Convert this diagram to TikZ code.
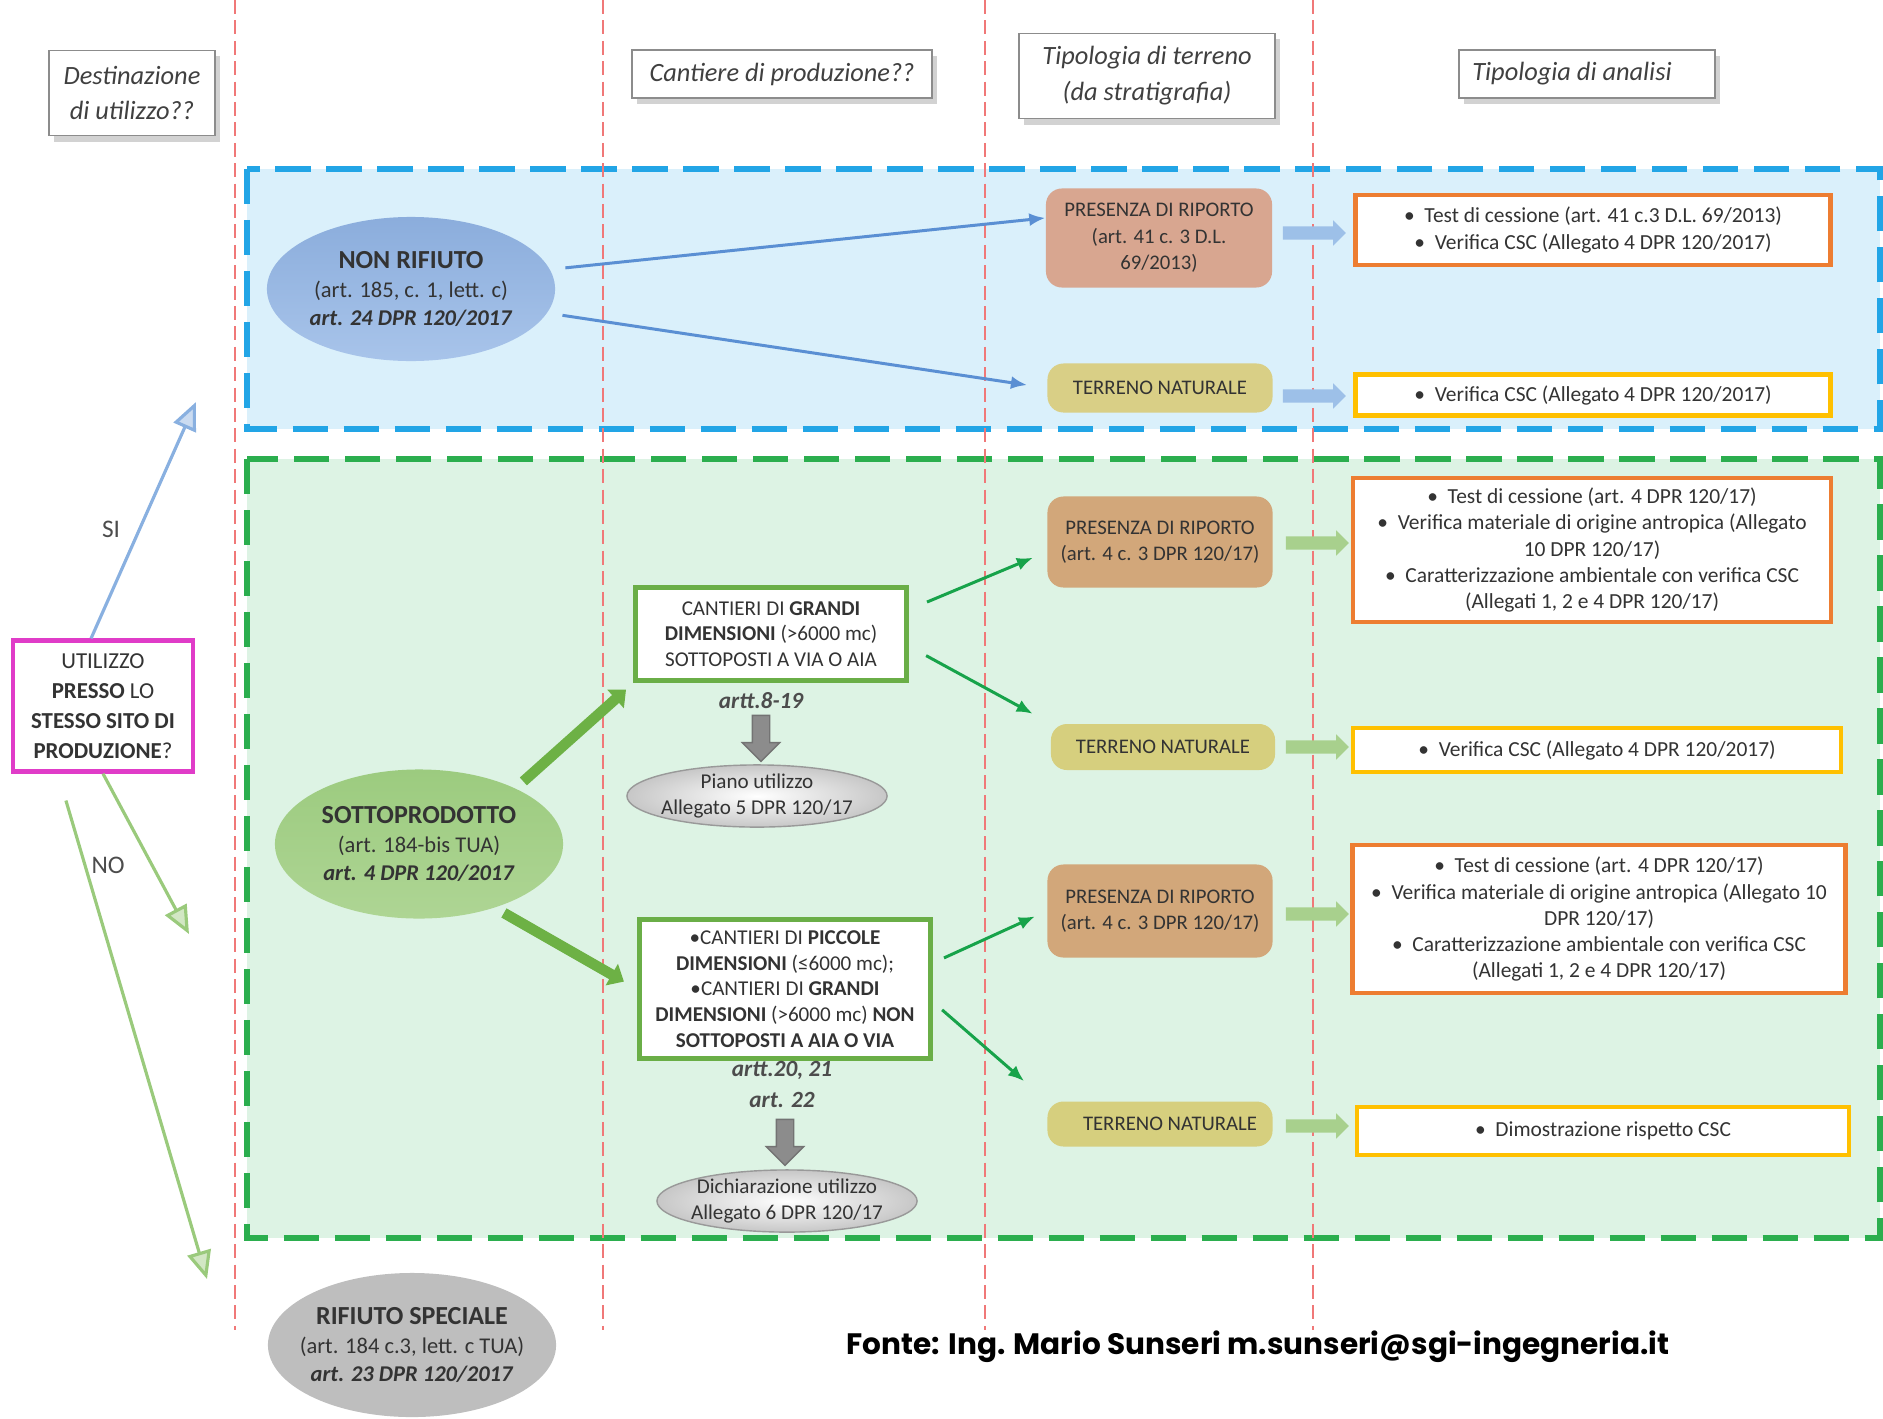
\documentclass[tikz,border=0pt]{standalone}
\usepackage{fontspec}
\setmainfont{Carlito}
\newfontfamily\fontefont{Poppins}
\usetikzlibrary{positioning,arrows.meta,calc,shapes.geometric,shapes.arrows,shadows}

\begin{document}
\begin{tikzpicture}[x=0.01cm,y=-0.01cm,
  font=\fontsize{6.1}{7.4}\selectfont,text=txt,
  hdr/.style={draw=black!45,fill=white,thin,align=center,inner sep=0pt,
    font=\fontsize{7.5}{10.2}\selectfont\itshape,text=black!75,
    drop shadow={shadow xshift=0.5mm,shadow yshift=-0.6mm,fill=black!35}},
  zone/.style={line width=1.5pt,dash pattern=on 10pt off 4.5pt},
  col/.style={draw=redl,line width=0.6pt,dash pattern=on 4pt off 1.8pt},
  cls/.style={ellipse,inner sep=0pt,align=center,minimum width=2.88cm,
    font=\fontsize{6.4}{8.2}\selectfont},
  tipo/.style={rounded corners=1.6mm,inner sep=0pt,align=center,
    font=\fontsize{5.9}{7.5}\selectfont},
  anl/.style={draw,fill=white,line width=1.3pt,inner sep=0pt,align=center},
  cant/.style={draw=cantg,fill=white,line width=1.4pt,inner sep=0pt,align=center,
    font=\fontsize{6}{7.3}\selectfont},
  doc/.style={ellipse,draw=black!40,inner color=white,outer color=black!22,inner xsep=-2pt,inner ysep=0pt,
    minimum width=2.6cm,minimum height=0.6cm,align=center,font=\fontsize{6}{7.3}\selectfont},
  artlbl/.style={font=\fontsize{6.6}{8}\selectfont\bfseries\itshape,text=black!70,inner sep=1pt},
  blk/.style={single arrow,inner sep=0.6mm,single arrow head extend=0.6mm,
    minimum height=0.63cm,draw=none},
  down/.style={single arrow,shape border rotate=270,inner sep=0.8mm,
    single arrow head extend=1mm,minimum height=0.46cm,fill=black!45,draw=black!55},
  lnk/.style={line width=0.85pt,-{Latex[length=1.6mm,width=1.3mm]}},
  fat/.style={draw=fatg,line width=3pt,-{Triangle[length=1.4mm,width=2.4mm]}},
  yesno/.style={line width=0.9pt,-{Triangle[length=2.8mm,width=2.4mm,fill=#1!45]},draw=#1}]
\definecolor{txt}{HTML}{333333}
\definecolor{redl}{HTML}{F07878}
\definecolor{zblue}{HTML}{22A5E6}\definecolor{zbluef}{HTML}{DAF0FB}
\definecolor{zgreen}{HTML}{2BAE4E}\definecolor{zgreenf}{HTML}{DDF3E4}
\definecolor{nrTop}{HTML}{8BADDC}\definecolor{nrBot}{HTML}{A8C4EA}
\definecolor{spTop}{HTML}{9CCB7F}\definecolor{spBot}{HTML}{AED594}
\definecolor{rsGray}{HTML}{BEBEBE}
\definecolor{ripB}{HTML}{D8A690}\definecolor{natB}{HTML}{D9CF86}
\definecolor{ripG}{HTML}{D2A77A}\definecolor{natG}{HTML}{D6CF7E}
\definecolor{anlOr}{HTML}{ED7D31}\definecolor{anlYe}{HTML}{FFC000}
\definecolor{cantg}{HTML}{6AAE47}\definecolor{fatg}{HTML}{6DB145}
\definecolor{magn}{HTML}{E03CC8}
\definecolor{lnkB}{HTML}{5A8FD3}\definecolor{lnkG}{HTML}{17A34A}
\definecolor{blkB}{HTML}{9DC0E8}\definecolor{blkG}{HTML}{A8D08D}
\definecolor{siB}{HTML}{89B0E0}\definecolor{noG}{HTML}{9ACA7C}
\useasboundingbox (0,0) rectangle (1883,1418);
\clip (0,0) rectangle (1883,1418);
% ===== zones =====
\draw[zone,draw=zblue,fill=zbluef] (247,169) rectangle (1880,429);
\draw[zone,draw=zgreen,fill=zgreenf] (247,459) rectangle (1880,1238);
% column separators
\foreach \x in {235,603,985,1313}{\draw[col] (\x,0)--(\x,1330);}
% ===== headers =====
\node[hdr,minimum width=1.66cm,minimum height=0.85cm] (hdDest) at (132,93) {Destinazione\\di utilizzo??};
\node[hdr,minimum width=3.0cm,minimum height=0.48cm] (hdCant) at (782,74) {Cantiere di produzione??};
\node[hdr,minimum width=2.56cm,minimum height=0.85cm] (hdTerr) at (1147,76) {Tipologia di terreno\\(da stratigrafia)};
\node[hdr,minimum width=2.56cm,minimum height=0.48cm] (hdAnal) at (1587,74) {Tipologia di analisi\hspace*{3mm}};
% ===== non rifiuto =====
\node[cls,minimum height=1.44cm,top color=nrTop,bottom color=nrBot] (nonRif) at (411,289)
  {{\bfseries\fontsize{7.4}{8.2}\selectfont NON RIFIUTO}\\(art. 185, c. 1, lett. c)\\\textbf{\textit{art. 24 DPR 120/2017}}};
\node[tipo,fill=ripB,minimum width=2.26cm,minimum height=0.99cm] (ripNR) at (1159,238)
  {PRESENZA DI RIPORTO\\(art. 41 c. 3 D.L.\\69/2013)};
\node[tipo,fill=natB,minimum width=2.25cm,minimum height=0.49cm] (natNR) at (1160,388) {TERRENO NATURALE};
\node[blk,fill=blkB] (bNR1) at (1311,233) {};
\node[blk,fill=blkB] (bNR2) at (1311,396) {};
\node[anl,draw=anlOr,minimum width=4.75cm,minimum height=0.70cm] (anNR1) at (1593,230)
  {\textbullet\ \ Test di cessione (art. 41 c.3 D.L. 69/2013)\\\textbullet\ \ Verifica CSC (Allegato 4 DPR 120/2017)};
\node[anl,draw=anlYe,minimum width=4.75cm,minimum height=0.41cm] (anNR2) at (1593,395)
  {\textbullet\ \ Verifica CSC (Allegato 4 DPR 120/2017)};
\draw[lnk,lnkB,shorten <=1.5mm] (nonRif.8)--(ripNR.170);
\draw[lnk,lnkB,shorten <=1.5mm,shorten >=2mm] (nonRif.-10)--(natNR.west);
% ===== sottoprodotto =====
\node[cls,minimum height=1.49cm,top color=spTop,bottom color=spBot] (sotto) at (419,844)
  {{\bfseries\fontsize{7.4}{8.2}\selectfont SOTTOPRODOTTO}\\(art. 184-bis TUA)\\\textbf{\textit{art. 4 DPR 120/2017}}};
\node[cant,minimum width=2.70cm,minimum height=0.93cm] (grandi) at (771,634)
  {CANTIERI DI \textbf{GRANDI}\\\textbf{DIMENSIONI} (>6000 mc)\\SOTTOPOSTI A VIA O AIA};
\node[artlbl] (art819) at (761,701) {artt.8-19};
\node[down] (dwn1) at (761,734) {};
\node[doc] (piano) at (757,796) {Piano utilizzo\\Allegato 5 DPR 120/17};
\node[cant,minimum width=2.91cm,minimum height=1.39cm] (piccole) at (785,989)
  {\textbullet CANTIERI DI \textbf{PICCOLE}\\\textbf{DIMENSIONI} (≤6000 mc);\\\textbullet CANTIERI DI \textbf{GRANDI}\\\textbf{DIMENSIONI} (>6000 mc) \textbf{NON}\\\textbf{SOTTOPOSTI A AIA O VIA}};
\node[artlbl] (art2021) at (782,1070) {artt.20, 21};
\node[artlbl] (art22) at (782,1100) {art. 22};
\node[down] (dwn2) at (785,1138) {};
\node[doc] (dich) at (787,1201) {Dichiarazione utilizzo\\Allegato 6 DPR 120/17};
\draw[fat,shorten <=1mm,shorten >=1mm] (sotto.30)--(grandi.south west);
\draw[fat,shorten <=1mm,shorten >=1.5mm] (sotto.-40)--(piccole.west);
% tipologia terreno (green zone)
\node[tipo,fill=ripG,minimum width=2.25cm,minimum height=0.91cm] (ripG1) at (1160,542)
  {PRESENZA DI RIPORTO\\(art. 4 c. 3 DPR 120/17)};
\node[tipo,fill=natG,minimum width=2.24cm,minimum height=0.46cm] (natG1) at (1163,747) {TERRENO NATURALE};
\node[tipo,fill=ripG,minimum width=2.25cm,minimum height=0.93cm] (ripG2) at (1160,911)
  {PRESENZA DI RIPORTO\\(art. 4 c. 3 DPR 120/17)};
\node[tipo,fill=natG,minimum width=2.25cm,minimum height=0.45cm] (natG2) at (1160,1124) {\hspace*{2mm}TERRENO NATURALE};
\draw[lnk,lnkG,shorten <=2mm,shorten >=1.5mm] (grandi.10)--(ripG1.185);
\draw[lnk,lnkG,shorten <=2mm,shorten >=2mm] (grandi.-5)--(natG1.north west);
\draw[lnk,lnkG,shorten <=1.2mm,shorten >=1.3mm] (piccole.10)--(ripG2.west);
\draw[lnk,lnkG,shorten <=1.2mm,shorten >=3mm] (piccole.-5)--(natG2.north west);
\foreach \y/\n in {543/1,747/2,914/3,1126/4}{\node[blk,fill=blkG] (bG\n) at (1314,\y) {};}
% tipologia analisi (green zone)
\node[anl,draw=anlOr,minimum width=4.78cm,minimum height=1.44cm] (anG1) at (1592,550)
  {\textbullet\ \ Test di cessione (art. 4 DPR 120/17)\\\textbullet\ \ Verifica materiale di origine antropica (Allegato\\10 DPR 120/17)\\\textbullet\ \ Caratterizzazione ambientale con verifica CSC\\(Allegati 1, 2 e 4 DPR 120/17)};
\node[anl,draw=anlYe,minimum width=4.88cm,minimum height=0.44cm] (anG2) at (1597,750)
  {\textbullet\ \ Verifica CSC (Allegato 4 DPR 120/2017)};
\node[anl,draw=anlOr,minimum width=4.93cm,minimum height=1.48cm] (anG3) at (1599,919)
  {\textbullet\ \ Test di cessione (art. 4 DPR 120/17)\\\textbullet\ \ Verifica materiale di origine antropica (Allegato 10\\DPR 120/17)\\\textbullet\ \ Caratterizzazione ambientale con verifica CSC\\(Allegati 1, 2 e 4 DPR 120/17)};
\node[anl,draw=anlYe,minimum width=4.92cm,minimum height=0.48cm] (anG4) at (1603,1131)
  {\textbullet\ \ Dimostrazione rispetto CSC};
% ===== decision =====
\node[draw=magn,line width=1.2pt,fill=white,minimum width=1.80cm,minimum height=1.31cm,align=center,
  inner sep=0pt,font=\fontsize{6.5}{8.5}\selectfont] (util) at (103,706)
  {UTILIZZO\\\textbf{PRESSO} LO\\\textbf{STESSO SITO DI}\\\textbf{PRODUZIONE}?};
\coordinate (siEnd) at (196,402);
\coordinate (noEnd1) at (189,934);
\coordinate (noEnd2) at (207,1279);
\draw[yesno=siB] (util.100)--(siEnd) node[pos=0.46,left=0.6mm,font=\fontsize{7.2}{8}\selectfont,text=black!70]{SI};
\draw[yesno=noG] (util.south)--(noEnd1) node[pos=0.57,left=1.4mm,font=\fontsize{7.2}{8}\selectfont,text=black!70]{NO};
\draw[yesno=noG,shorten <=2.8mm] ($(util.south)+(-45,0)$)--(noEnd2);
\node[cls,minimum height=1.44cm,inner xsep=-3pt,fill=rsGray] (rifSp) at (412,1345)
  {{\bfseries\fontsize{7.4}{8.2}\selectfont RIFIUTO SPECIALE}\\(art. 184 c.3, lett. c TUA)\\\textbf{\textit{art. 23 DPR 120/2017}}};
\node[font=\fontefont\bfseries\fontsize{8.4}{10}\selectfont,text=black] (fonte) at (1258,1347)
  {Fonte: Ing. Mario Sunseri m.sunseri@sgi-ingegneria.it};
\end{tikzpicture}
\end{document}
